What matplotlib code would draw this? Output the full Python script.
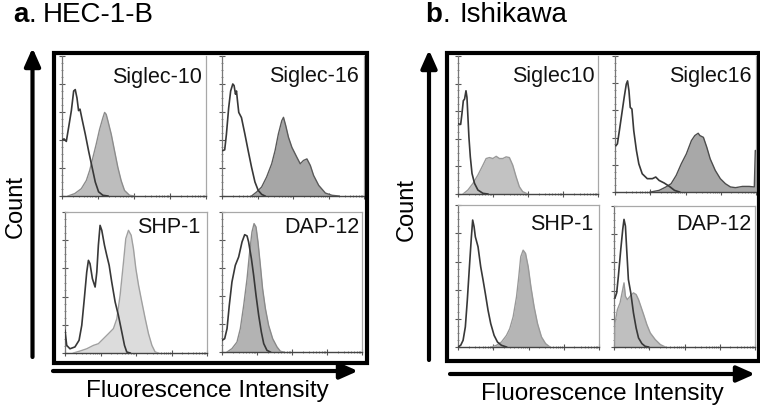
import matplotlib
matplotlib.use("Agg")
import matplotlib.pyplot as plt
from matplotlib.patches import Rectangle, FancyArrowPatch
from matplotlib.ticker import FixedLocator
import numpy as np

plt.rcParams['font.family'] = ['Liberation Sans', 'DejaVu Sans']

# ---------------- data (x: % of log-fluorescence axis, y: % of axis height) ----------------
panel_letters = ["a", "b"]
panel_names = ["HEC-1-B", "Ishikawa"]
marker_labels_a = ["Siglec-10", "Siglec-16", "SHP-1", "DAP-12"]
marker_labels_b = ["Siglec10", "Siglec16", "SHP-1", "DAP-12"]
xlabel_text = "Fluorescence Intensity"
ylabel_text = "Count"

# Panel a (HEC-1-B)
a_sig10_ctrl_x = [0, 1.4, 3.0, 4.6, 6.5, 8.1, 9.2, 10.4, 11.5, 12.5, 13.9, 16.2, 18.5, 20.8, 23.1, 25.4, 28.4, 31.9]
a_sig10_ctrl_y = [40, 40.8, 39, 49, 61, 75, 76, 70, 61, 62, 55, 44, 32, 21, 10, 3, 0.5, 0]
a_sig10_stain_x = [4.2, 8.8, 13.4, 16.9, 19.2, 21.5, 23.8, 26.1, 28.4, 29.6, 30.7, 31.9, 34.2, 36.5, 38.8, 41.1, 43.4, 46.9, 50.3]
a_sig10_stain_y = [0, 1.7, 5.2, 11.1, 18.2, 27.7, 37.2, 47.6, 55.9, 59.7, 58.3, 53.6, 44.1, 32.2, 20.4, 10.9, 4.0, 0.5, 0]

a_sig16_ctrl_x = [0.7, 1.9, 3.1, 4.7, 6.1, 7.6, 8.5, 9.5, 10.2, 10.9, 11.8, 13.7, 16.1, 18.4, 20.8, 23.2, 25.5, 27.9, 30.3]
a_sig16_ctrl_y = [32.5, 33, 44, 63, 75, 80, 78.9, 72.7, 75, 68, 59.7, 56, 44.3, 32.5, 20.6, 10, 4, 1.2, 0]
a_sig16_stain_x = [20.8, 24.3, 27.9, 31.4, 35.0, 37.4, 39.7, 42.1, 43.3, 44.9, 46.8, 49.2, 52.7, 55.1, 57.4, 59.8, 62.2, 64.5, 68.1, 72.8, 77.5, 82.3]
a_sig16_stain_y = [0, 2.8, 6.4, 13.5, 23, 32.5, 44.3, 53.8, 56.2, 50.2, 42, 34.8, 27.7, 23, 25.4, 26.5, 21.8, 14.7, 7.6, 2.1, 0.5, 0]

a_shp1_ctrl_x = [0, 1.2, 3.5, 7.0, 9.9, 11.8, 13.6, 15.3, 16.5, 17.6, 19.3, 21.2, 22.4, 23.5, 24.7, 25.9, 27.8, 29.4, 31.1, 32.9, 35.3, 37.6, 40.0, 41.9, 43.5, 45.9]
a_shp1_ctrl_y = [16, 5.4, 3, 4.3, 9, 19.6, 38.5, 57.4, 65.7, 63.4, 52.7, 46.8, 57.4, 76.4, 90.5, 87, 76.4, 69.3, 62.2, 50.4, 36.2, 26.7, 14.9, 5.4, 0.7, 0]
a_shp1_stain_x = [5.9, 10.6, 15.3, 20.0, 23.5, 27.1, 30.6, 34.1, 36.5, 38.8, 41.2, 42.8, 44.7, 46.6, 48.2, 49.9, 51.8, 54.1, 56.5, 58.8, 61.2, 63.5, 65.9]
a_shp1_stain_y = [0, 1.4, 3, 5.4, 6.6, 10.2, 13.7, 17.3, 24.3, 40.9, 64.5, 81.1, 87, 83.5, 74, 59.8, 48, 36.2, 24.3, 13.7, 5.4, 0.7, 0]

a_dap12_ctrl_x = [0, 1.9, 3.6, 5.2, 7.1, 9.5, 11.9, 14.3, 16.2, 17.9, 19.0, 21.0, 22.6, 24.3, 26.2, 28.1, 29.8, 32.1, 34.5]
a_dap12_ctrl_y = [8.3, 9.5, 16.7, 33.3, 50, 61.9, 67.9, 78.6, 83.8, 82.9, 78.6, 66.7, 54.8, 40.5, 26.2, 14.3, 6, 1.2, 0]
a_dap12_stain_x = [3.6, 7.1, 10.7, 13.1, 15.5, 17.9, 19.5, 21.4, 22.9, 24.3, 25.7, 27.4, 29.0, 31.0, 33.3, 36.2, 39.3, 41.7, 44.0]
a_dap12_stain_y = [0, 2.4, 7.1, 16.7, 33.3, 52.4, 69, 85.7, 91.7, 89.3, 78.6, 61.9, 45.2, 31, 19, 9.5, 3.6, 0.5, 0]

# Panel b (Ishikawa)
b_sig10_ctrl_x = [0.5, 1.9, 2.8, 3.8, 4.7, 5.7, 6.4, 7.1, 7.8, 8.8, 10.0, 11.8, 14.2, 17.8, 21.3]
b_sig10_ctrl_y = [50.8, 50.4, 58, 67.6, 68.8, 74.8, 70, 55.6, 41.2, 26.9, 14.9, 7.7, 2.9, 0.5, 0]
b_sig10_stain_x = [3.6, 7.1, 10.7, 14.2, 17.8, 20.1, 22.5, 24.9, 27.3, 29.6, 32.0, 34.4, 36.7, 39.1, 41.5, 43.8, 46.2, 49.8]
b_sig10_stain_y = [0, 2.9, 7.7, 13.7, 20.9, 25.7, 26.4, 25.7, 27.3, 25.7, 25.7, 26.9, 26.4, 20.9, 12.5, 5.3, 1.7, 0]

b_sig16_ctrl_x = [0.7, 1.7, 3.1, 4.8, 6.5, 8.0, 8.9, 9.9, 10.8, 12.0, 13.3, 15.2, 16.9, 19.3, 22.9, 26.5, 28.9, 31.3, 34.9, 38.6, 42.2, 45.8]
b_sig16_ctrl_y = [34.1, 35.4, 45.1, 57.3, 69.5, 79.3, 81.7, 74.4, 62.2, 61, 45.1, 30.5, 20.7, 13.4, 9.8, 9.8, 11, 8.5, 6.6, 4.1, 1.2, 0]
b_sig16_stain_x = [25.3, 31.3, 36.1, 39.8, 43.4, 47.0, 50.6, 54.2, 56.6, 59.0, 60.2, 62.7, 65.1, 67.5, 71.1, 74.7, 78.3, 81.9, 85.5, 90.4, 95.2, 98.8, 99.5, 100]
b_sig16_stain_y = [0, 1.2, 3.7, 6.1, 12.2, 20.7, 28, 37.8, 41.5, 43.2, 41.5, 40.2, 32.9, 24.4, 15.9, 9.8, 6.1, 3.7, 3.2, 4.1, 4.1, 3.7, 30.5, 30.5]

b_shp1_ctrl_x = [0, 1.9, 3.6, 5.2, 6.6, 8.1, 9.5, 10.4, 11.4, 12.3, 14.2, 16.1, 17.8, 19.4, 21.3, 23.2, 25.6, 28.0, 30.8, 34.4]
b_shp1_ctrl_y = [0, 1.2, 4.7, 14.1, 32.9, 56.5, 77.6, 89.4, 84.7, 77.6, 70.6, 56.5, 47, 37.6, 25.9, 16.5, 8.2, 3.5, 1.2, 0]
b_shp1_stain_x = [23.7, 27.3, 30.8, 34.4, 36.7, 39.1, 41.5, 43.1, 44.5, 46.2, 47.9, 49.8, 51.7, 54.0, 56.4, 59.2, 62.1, 65.2]
b_shp1_stain_y = [0, 1.2, 3.5, 8.2, 12.9, 21.2, 35.3, 49.4, 63.5, 68.2, 65.9, 56.5, 42.4, 28.2, 16.5, 7.1, 2.4, 0]

b_dap12_ctrl_x = [0.7, 1.9, 3.1, 4.8, 6.2, 7.1, 8.1, 9.0, 10.2, 11.9, 13.8, 15.7, 17.4, 19.8, 22.1, 24.5]
b_dap12_ctrl_y = [34.8, 38.4, 50.2, 69.2, 83.4, 90.5, 85.8, 69.2, 47.9, 38.4, 24.2, 13.5, 6.4, 2.4, 0.5, 0]
b_dap12_stain_x = [0, 0.7, 2.4, 4.3, 6.2, 7.1, 8.1, 9.5, 11.4, 13.8, 15.7, 17.4, 19.0, 21.0, 23.3, 25.7, 29.3, 32.9, 36.4]
b_dap12_stain_y = [0, 17.1, 26.5, 31.3, 40.8, 45.5, 36, 33.6, 36, 38.4, 37.2, 33.6, 28.9, 23, 15.9, 10, 5.2, 1.7, 0]

# ---------------- layout (pixel geometry) ----------------
W, H = 760, 408
fig = plt.figure(figsize=(W / 100, H / 100), dpi=100)


def fx(px):
    return px / W


def fy(py):
    return 1 - py / H


def add_hist_axes(l, r, t, b, ctrl, stain, fill_c, edge_c, label, lab_x, lab_y, top_row):
    ax = fig.add_axes([fx(l), fy(b), (r - l) / W, (b - t) / H])
    ax.set_xlim(0, 100)
    ax.set_ylim(0, 100)
    sx, sy = stain
    ax.fill_between(sx, sy, 0, color=fill_c, lw=0, zorder=2)
    ax.plot(sx, sy, color=edge_c, lw=1.0, zorder=3)
    cx, cy = ctrl
    ax.plot(cx, cy, color='#383838', lw=1.2, zorder=4)
    for s in ['top', 'right', 'left']:
        ax.spines[s].set_color('#a8a8a8')
        ax.spines[s].set_linewidth(0.9)
    ax.spines['left'].set_color('#777777')
    ax.spines['bottom'].set_color('#444444')
    ax.spines['bottom'].set_linewidth(1.0)
    if top_row:
        ax.spines['top'].set_visible(False)
    ax.xaxis.set_major_locator(FixedLocator([0, 25, 50, 75, 100]))
    minors = [d * 25 + 25 * np.log10(k) for d in range(4) for k in range(2, 10)]
    ax.xaxis.set_minor_locator(FixedLocator(minors))
    ax.yaxis.set_major_locator(FixedLocator(np.arange(0, 101, 20)))
    ax.yaxis.set_minor_locator(FixedLocator(np.arange(0, 101, 5)))
    ax.tick_params(which='major', direction='inout', length=4, width=0.8, color='#555555',
                   labelbottom=False, labelleft=False)
    ax.tick_params(which='minor', direction='inout', length=2, width=0.6, color='#777777')
    fig.text(fx(lab_x), fy(lab_y), label, ha='right', va='baseline', fontsize=15.5, color='#111111')
    return ax


# Panel a
add_hist_axes(62, 206, 56, 196, (a_sig10_ctrl_x, a_sig10_ctrl_y), (a_sig10_stain_x, a_sig10_stain_y),
              '#bdbdbd', '#8c8c8c', marker_labels_a[0], 202, 83, True)
add_hist_axes(222, 364, 56, 196, (a_sig16_ctrl_x, a_sig16_ctrl_y), (a_sig16_stain_x, a_sig16_stain_y),
              '#a6a6a6', '#5a5a5a', marker_labels_a[1], 359, 82, True)
add_hist_axes(65, 207, 212, 353, (a_shp1_ctrl_x, a_shp1_ctrl_y), (a_shp1_stain_x, a_shp1_stain_y),
              '#dcdcdc', '#a0a0a0', marker_labels_a[2], 200, 233, False)
add_hist_axes(222, 362, 212, 352, (a_dap12_ctrl_x, a_dap12_ctrl_y), (a_dap12_stain_x, a_dap12_stain_y),
              '#b3b3b3', '#8a8a8a', marker_labels_a[3], 359, 233, False)

# Panel b
add_hist_axes(458, 598, 56, 194, (b_sig10_ctrl_x, b_sig10_ctrl_y), (b_sig10_stain_x, b_sig10_stain_y),
              '#c2c2c2', '#999999', marker_labels_b[0], 595, 82, True)
add_hist_axes(615, 756, 56, 192, (b_sig16_ctrl_x, b_sig16_ctrl_y), (b_sig16_stain_x, b_sig16_stain_y),
              '#a8a8a8', '#4d4d4d', marker_labels_b[1], 752, 82, True)
add_hist_axes(458, 599, 205, 347, (b_shp1_ctrl_x, b_shp1_ctrl_y), (b_shp1_stain_x, b_shp1_stain_y),
              '#b5b5b5', '#999999', marker_labels_b[2], 593, 230, False)
add_hist_axes(614, 755, 206, 347, (b_dap12_ctrl_x, b_dap12_ctrl_y), (b_dap12_stain_x, b_dap12_stain_y),
              '#bfbfbf', '#999999', marker_labels_b[3], 752, 230, False)

# thick frames
for (l, t, r, b) in [(54, 53, 366.5, 362.5), (446.5, 53, 758.5, 361)]:
    fig.add_artist(Rectangle((fx(l), fy(b)), (r - l) / W, (b - t) / H, transform=fig.transFigure,
                             fill=False, lw=3.0, edgecolor='black', zorder=10))


def arrow(x0, y0, x1, y1):
    fig.add_artist(FancyArrowPatch((fx(x0), fy(y0)), (fx(x1), fy(y1)), transform=fig.transFigure,
                                   arrowstyle='-|>,head_length=0.9,head_width=0.4', mutation_scale=12,
                                   lw=3.0, color='black', shrinkA=0, shrinkB=0))


arrow(32.5, 357, 32.5, 48)
arrow(53, 371, 358, 371)
arrow(429, 360, 429, 50)
arrow(450, 374, 755, 374)

# axis labels
fig.text(fx(16), fy(206), ylabel_text, rotation=90, ha='center', va='center', fontsize=17)
fig.text(fx(407), fy(210), ylabel_text, rotation=90, ha='center', va='center', fontsize=17)
fig.text(fx(207), fy(397), xlabel_text, ha='center', va='baseline', fontsize=17.5)
fig.text(fx(602), fy(400), xlabel_text, ha='center', va='baseline', fontsize=17.5)

# panel titles: bold letter, period right after it, then the name
renderer = fig.canvas.get_renderer()
title_pos = [(13, 22, 43), (425, 22.5, 460)]
for letter, name, (x0, y0, xname) in zip(panel_letters, panel_names, title_pos):
    t_letter = fig.text(fx(x0), fy(y0), letter, ha='left', va='baseline', fontsize=20, fontweight='bold')
    ext = t_letter.get_window_extent(renderer=renderer)
    fig.text(ext.x1 / W + 0.5 / W, fy(y0), ".", ha='left', va='baseline', fontsize=20)
    fig.text(fx(xname), fy(y0), name, ha='left', va='baseline', fontsize=20)

fig.savefig("out.png", dpi=100)
